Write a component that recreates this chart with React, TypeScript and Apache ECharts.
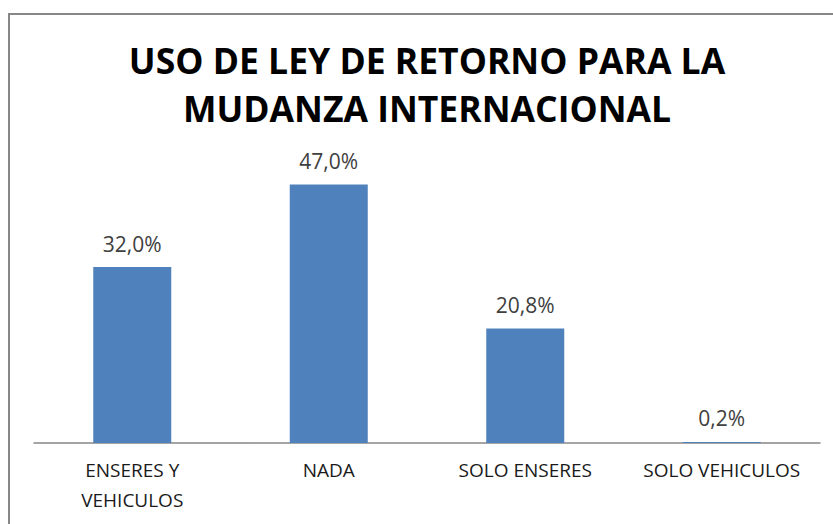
import React, { useEffect, useRef } from "react";
import * as echarts from "echarts";

const categories = ["ENSERES Y\nVEHICULOS", "NADA", "SOLO ENSERES", "SOLO VEHICULOS"];
const values = [32.0, 47.0, 20.8, 0.2];
const titleLines = ["USO DE LEY DE RETORNO PARA LA", "MUDANZA INTERNACIONAL"];

const FONT = "'Open Sans', sans-serif";

export default function App() {
  const ref = useRef<HTMLDivElement>(null);
  useEffect(() => {
    if (!ref.current) return;
    const chart = echarts.init(ref.current, null, { renderer: "svg" });
    const titleText = (text: string, y: number) => ({
      type: "text",
      x: 427,
      y,
      silent: true,
      style: {
        text,
        fontFamily: FONT,
        fontWeight: "bold",
        fontSize: 35.5,
        fill: "#000000",
        align: "center",
        verticalAlign: "middle",
        textAlign: "center",
        textVerticalAlign: "middle",
      },
    });
    chart.setOption({
      animation: false,
      backgroundColor: "#ffffff",
      graphic: [
        {
          type: "rect",
          shape: { x: 9, y: 14, width: 840, height: 530 },
          style: { fill: "none", stroke: "#878787", lineWidth: 2 },
          silent: true,
        },
        titleText(titleLines[0], 60),
        titleText(titleLines[1], 108),
      ],
      grid: { left: 34, right: 13, top: 168, bottom: 81 },
      xAxis: {
        type: "category",
        data: categories,
        axisLine: { show: true, lineStyle: { color: "#878787", width: 1.5 } },
        axisTick: { show: false },
        axisLabel: {
          fontFamily: FONT,
          fontSize: 19,
          lineHeight: 30,
          color: "#1a1a1a",
          margin: 12,
          interval: 0,
        },
      },
      yAxis: {
        type: "value",
        min: 0,
        max: 50,
        show: false,
        splitLine: { show: false },
      },
      series: [
        {
          type: "bar",
          data: values,
          barWidth: 78,
          itemStyle: { color: "#4f81bd" },
          label: {
            show: true,
            position: "top",
            distance: 13,
            fontFamily: FONT,
            fontSize: 21,
            color: "#404040",
            formatter: (p: any) => p.value.toFixed(1).replace(".", ",") + "%",
          },
        },
      ],
    });
    return () => chart.dispose();
  }, []);
  return (
    <div
      ref={ref}
      style={{ position: "fixed", left: 0, top: 0, width: 833, height: 524 }}
    />
  );
}
